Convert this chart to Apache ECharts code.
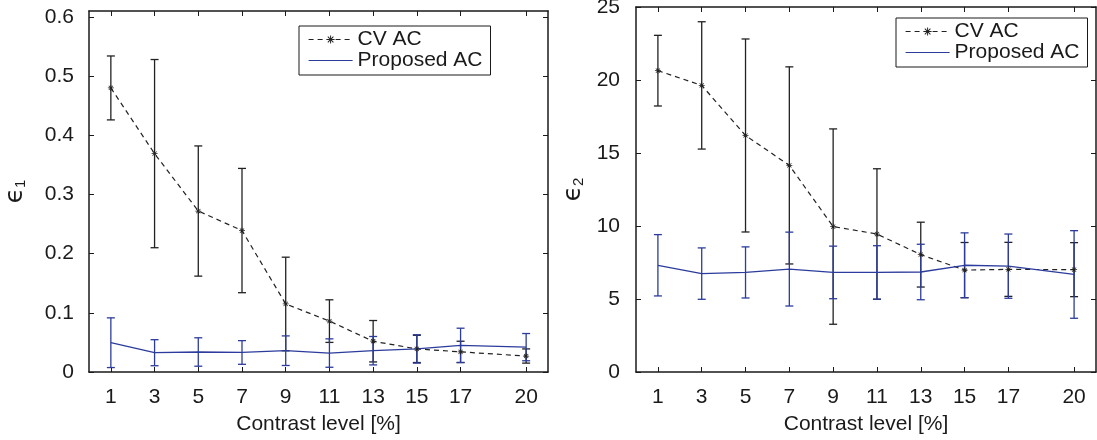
<!DOCTYPE html>
<html>
<head>
<meta charset="utf-8">
<script src="https://cdn.jsdelivr.net/npm/echarts@6/dist/echarts.min.js"></script>
<style>
html,body{margin:0;padding:0;background:#fff;}
#chart{width:1097px;height:440px;}
</style>
</head>
<body>
<div id="chart"></div>
<script>
// ---- data ----
const contrast = [1, 3, 5, 7, 9, 11, 13, 15, 17, 20];
const xTicks = [1, 3, 5, 7, 9, 11, 13, 15, 17, 20];
const y1Ticks = [0, 0.1, 0.2, 0.3, 0.4, 0.5, 0.6];
const y2Ticks = [0, 5, 10, 15, 20, 25];

// epsilon_1 (left panel)
const cv1Mean = [0.480, 0.369, 0.272, 0.239, 0.115, 0.086, 0.052, 0.039, 0.034, 0.027];
const cv1Err  = [0.054, 0.159, 0.110, 0.105, 0.079, 0.036, 0.035, 0.023, 0.018, 0.012];
const pa1Mean = [0.0495, 0.0326, 0.0338, 0.033, 0.036, 0.032, 0.036, 0.039, 0.045, 0.042];
const pa1Err  = [0.042, 0.022, 0.024, 0.020, 0.025, 0.024, 0.024, 0.024, 0.029, 0.023];

// epsilon_2 (right panel)
const cv2Mean = [20.64, 19.63, 16.2, 14.15, 9.96, 9.45, 8.04, 6.98, 7.03, 7.01];
const cv2Err  = [2.42, 4.36, 6.61, 6.75, 6.69, 4.47, 2.22, 1.89, 1.85, 1.85];
const pa2Mean = [7.31, 6.74, 6.82, 7.05, 6.82, 6.82, 6.85, 7.31, 7.25, 6.68];
const pa2Err  = [2.10, 1.76, 1.75, 2.53, 1.80, 1.83, 1.90, 2.22, 2.20, 3.00];

const seriesNames = ['CV AC', 'Proposed AC'];
const xName = 'Contrast level [%]';

// ---- styling ----
const FONT = "'Liberation Sans', Arial, Helvetica, sans-serif";
const TXT = '#1a1a1a';
const BLACK = '#222222';
const BLUE = '#2c3c9c';
const FS = 21;
const asterisk = 'path://M0 4.4L10 4.4L10 5.6L0 5.6ZM4.4 0L5.6 0L5.6 10L4.4 10ZM1.92 1.08L8.92 8.08L8.08 8.92L1.08 1.92ZM1.08 8.08L8.08 1.08L8.92 1.92L1.92 8.92Z';

function pts(means) { return contrast.map((x, i) => [x, means[i]]); }
function bars(means, errs) { return contrast.map((x, i) => [x, means[i] - errs[i], means[i] + errs[i]]); }

function errRender(color) {
  return function (params, api) {
    const x = api.value(0), lo = api.value(1), hi = api.value(2);
    const p0 = api.coord([x, lo]);
    const p1 = api.coord([x, hi]);
    const hw = 4;
    const st = { stroke: color, lineWidth: 1.3, fill: null };
    return {
      type: 'group',
      children: [
        { type: 'line', shape: { x1: p0[0], y1: p0[1], x2: p1[0], y2: p1[1] }, style: st },
        { type: 'line', shape: { x1: p0[0] - hw, y1: p0[1], x2: p0[0] + hw, y2: p0[1] }, style: st },
        { type: 'line', shape: { x1: p1[0] - hw, y1: p1[1], x2: p1[0] + hw, y2: p1[1] }, style: st }
      ]
    };
  };
}

const axisLineStyle = { color: TXT, width: 1.5 };
const tickStyle = { color: TXT, width: 1 };
const lblStyle = { fontSize: FS, color: TXT, fontFamily: FONT };

function xAxes(grid) {
  return [
    {
      gridIndex: grid, type: 'value', min: 0, max: 21, position: 'bottom',
      axisLine: { onZero: false, lineStyle: axisLineStyle },
      axisTick: { inside: true, length: 5, customValues: xTicks, lineStyle: tickStyle },
      axisLabel: Object.assign({ customValues: xTicks, margin: 15 }, lblStyle),
      splitLine: { show: false },
      name: xName, nameLocation: 'middle', nameGap: 42,
      nameTextStyle: lblStyle
    },
    {
      gridIndex: grid, type: 'value', min: 0, max: 21, position: 'top',
      axisLine: { onZero: false, lineStyle: axisLineStyle },
      axisTick: { inside: true, length: 5, customValues: xTicks, lineStyle: tickStyle },
      axisLabel: { show: false },
      splitLine: { show: false }
    }
  ];
}

function yAxes(grid, max, ticks, sub, gap, margin) {
  return [
    {
      gridIndex: grid, type: 'value', min: 0, max: max, position: 'left',
      axisLine: { onZero: false, lineStyle: axisLineStyle },
      axisTick: { inside: true, length: 5, customValues: ticks, lineStyle: tickStyle },
      axisLabel: Object.assign({ customValues: ticks, margin: margin }, lblStyle),
      splitLine: { show: false },
      name: '{e|\u03F5}{s|' + sub + '}', nameLocation: 'middle', nameGap: gap, nameRotate: 90,
      nameTextStyle: {
        rich: {
          e: { fontSize: 25, fontFamily: "'DejaVu Sans', sans-serif", color: TXT, verticalAlign: 'middle' },
          s: { fontSize: 15, fontFamily: FONT, color: TXT, verticalAlign: 'bottom', padding: [10, 0, 0, 0] }
        }
      }
    },
    {
      gridIndex: grid, type: 'value', min: 0, max: max, position: 'right',
      axisLine: { onZero: false, lineStyle: axisLineStyle },
      axisTick: { inside: true, length: 5, customValues: ticks, lineStyle: tickStyle },
      axisLabel: { show: false },
      splitLine: { show: false }
    }
  ];
}

function legend(left, top) {
  return {
    orient: 'vertical', left: left, top: top,
    padding: [3, 8, 4, 9], itemGap: 0, itemWidth: 44, itemHeight: 10,
    borderColor: TXT, borderWidth: 1, borderRadius: 0, backgroundColor: '#fff',
    selectedMode: false,
    textStyle: { fontSize: FS, fontFamily: FONT, color: TXT, lineHeight: 19 },
    lineStyle: { width: 1.2 },
    data: [{ name: seriesNames[0] }, { name: seriesNames[1], itemStyle: { opacity: 0 } }]
  };
}

function panelSeries(grid, cvMean, cvErr, paMean, paErr) {
  const xi = grid * 2, yi = grid * 2;
  return [
    {
      name: 'cvErr' + grid, type: 'custom', xAxisIndex: xi, yAxisIndex: yi,
      renderItem: errRender(BLACK), data: bars(cvMean, cvErr), encode: { x: 0, y: [1, 2] }, silent: true
    },
    {
      name: seriesNames[0], type: 'line', xAxisIndex: xi, yAxisIndex: yi, data: pts(cvMean),
      symbol: asterisk, symbolSize: 6, showSymbol: true,
      itemStyle: { color: BLACK },
      lineStyle: { color: BLACK, width: 1.2, type: [5, 4] }
    },
    {
      name: 'paErr' + grid, type: 'custom', xAxisIndex: xi, yAxisIndex: yi,
      renderItem: errRender(BLUE), data: bars(paMean, paErr), encode: { x: 0, y: [1, 2] }, silent: true
    },
    {
      name: seriesNames[1], type: 'line', xAxisIndex: xi, yAxisIndex: yi, data: pts(paMean),
      symbol: 'none', itemStyle: { color: BLUE },
      lineStyle: { color: BLUE, width: 1.3 }
    }
  ];
}

const chart = echarts.init(document.getElementById('chart'), null, { renderer: 'canvas' });
chart.setOption({
  animation: false,
  backgroundColor: '#fff',
  textStyle: { fontFamily: FONT },
  grid: [
    { left: 89, top: 11, width: 459, height: 361, containLabel: false, outerBoundsMode: 'none' },
    { left: 636, top: 7, width: 460, height: 365, containLabel: false, outerBoundsMode: 'none' }
  ],
  xAxis: xAxes(0).concat(xAxes(1)),
  yAxis: yAxes(0, 0.61, y1Ticks, '1', 61, 15).concat(yAxes(1, 25, y2Ticks, '2', 50, 16)),
  legend: [legend(299, 26), legend(896, 18)],
  series: panelSeries(0, cv1Mean, cv1Err, pa1Mean, pa1Err).concat(panelSeries(1, cv2Mean, cv2Err, pa2Mean, pa2Err))
});
</script>
</body>
</html>
